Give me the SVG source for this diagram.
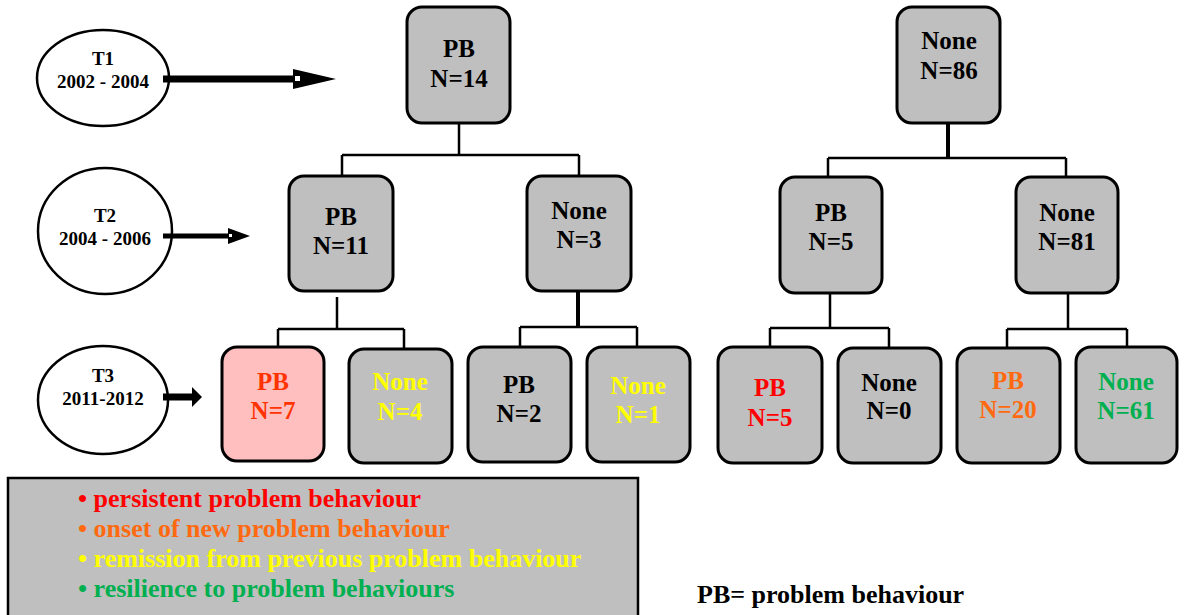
<svg xmlns="http://www.w3.org/2000/svg" width="1189" height="615" viewBox="0 0 1189 615">
<style>
.box{fill:#BFBFBF;stroke:#000;stroke-width:3}
.ell{fill:#fff;stroke:#000;stroke-width:2.5}
.t{font-family:"Liberation Serif","Times New Roman",serif;font-weight:bold;text-anchor:middle}
.nt{font-size:25px}
.et{font-size:19px}
.c{fill:none;stroke:#000;stroke-width:2.5}
.ct{fill:none;stroke:#000;stroke-width:4}
.lg{font-family:"Liberation Serif","Times New Roman",serif;font-weight:bold;font-size:26px}
</style>
<rect width="1189" height="615" fill="#fff"/>

<g id="connectors">
  <path class="c" d="M459,123 V155 M342,155 H579 M342,155 V176 M579,155 V176"/>
  <path class="c" d="M337,297 V329 M278,329 H404 M278,329 V348 M404,329 V349"/>
  <path class="ct" d="M578,291 V327"/>
  <path class="c" d="M520,327 H637 M520,327 V347 M637,327 V347"/>
  <path class="ct" d="M948,122 V158"/>
  <path class="c" d="M828,158 H1066 M828,158 V178 M1066,158 V178"/>
  <path class="c" d="M830,293 V328 M770,328 H889 M770,328 V348 M889,328 V348"/>
  <path class="c" d="M1068,293 V329 M1007,329 H1127 M1007,329 V348 M1127,329 V348"/>
</g>

<g id="t1">
  <ellipse class="ell" cx="103" cy="78" rx="66" ry="48"/>
  <text class="t et" x="103" y="65">T1</text>
  <text class="t et" x="103" y="88">2002 - 2004</text>
</g>
<g id="t1-arrow">
  <rect x="163" y="75.5" width="131" height="7" fill="#000"/>
  <polygon points="293,69 336,79 293,89" fill="#000"/>
  <rect x="295" y="76" width="5" height="5" fill="#fff"/>
</g>
<g id="t2">
  <ellipse class="ell" cx="105" cy="231" rx="67" ry="63"/>
  <text class="t et" x="105" y="222">T2</text>
  <text class="t et" x="105" y="245">2004 - 2006</text>
</g>
<g id="t2-arrow">
  <rect x="163" y="233.5" width="66" height="5" fill="#000"/>
  <polygon points="228,228 250,236 228,244" fill="#000"/>
  <rect x="229" y="234" width="3" height="3" fill="#fff"/>
</g>
<g id="t3">
  <ellipse class="ell" cx="103" cy="400" rx="65" ry="54"/>
  <text class="t et" x="103" y="382">T3</text>
  <text class="t et" x="103" y="405">2011-2012</text>
</g>
<g id="t3-arrow">
  <rect x="163" y="393.5" width="30" height="7" fill="#000"/>
  <polygon points="192,387 202,397 192,407" fill="#000"/>
</g>

<g id="n-pb14">
  <rect class="box" x="407" y="7" width="103" height="116" rx="15"/>
  <text class="t nt" x="459" y="57">PB</text>
  <text class="t nt" x="459" y="87">N=14</text>
</g>
<g id="n-none86">
  <rect class="box" x="897" y="7" width="103" height="116" rx="15"/>
  <text class="t nt" x="949" y="49">None</text>
  <text class="t nt" x="949" y="79">N=86</text>
</g>

<g id="n-pb11">
  <rect class="box" x="289" y="176" width="104" height="115" rx="15"/>
  <text class="t nt" x="341" y="225">PB</text>
  <text class="t nt" x="341" y="254">N=11</text>
</g>
<g id="n-none3">
  <rect class="box" x="527" y="176" width="104" height="115" rx="15"/>
  <text class="t nt" x="579" y="219">None</text>
  <text class="t nt" x="579" y="248">N=3</text>
</g>
<g id="n-pb5a">
  <rect class="box" x="780" y="177" width="102" height="116" rx="15"/>
  <text class="t nt" x="831" y="221">PB</text>
  <text class="t nt" x="831" y="250">N=5</text>
</g>
<g id="n-none81">
  <rect class="box" x="1016" y="177" width="102" height="116" rx="15"/>
  <text class="t nt" x="1067" y="221">None</text>
  <text class="t nt" x="1067" y="250">N=81</text>
</g>

<g id="n-pb7">
  <rect x="222" y="347" width="102" height="114" rx="15" fill="#FFBFBF" stroke="#000" stroke-width="3"/>
  <text class="t nt" x="273" y="390" fill="#FF3300">PB</text>
  <text class="t nt" x="273" y="419" fill="#FF3300">N=7</text>
</g>
<g id="n-none4">
  <rect class="box" x="349" y="349" width="103" height="114" rx="15"/>
  <text class="t nt" x="400" y="390" fill="#FFFF00">None</text>
  <text class="t nt" x="400" y="420" fill="#FFFF00">N=4</text>
</g>
<g id="n-pb2">
  <rect class="box" x="468" y="347" width="103" height="115" rx="15"/>
  <text class="t nt" x="519" y="393">PB</text>
  <text class="t nt" x="519" y="422">N=2</text>
</g>
<g id="n-none1">
  <rect class="box" x="587" y="347" width="103" height="115" rx="15"/>
  <text class="t nt" x="638" y="394" fill="#FFFF00">None</text>
  <text class="t nt" x="638" y="423" fill="#FFFF00">N=1</text>
</g>
<g id="n-pb5b">
  <rect class="box" x="718" y="347" width="104" height="116" rx="15"/>
  <text class="t nt" x="770" y="396" fill="#FF0000">PB</text>
  <text class="t nt" x="770" y="426" fill="#FF0000">N=5</text>
</g>
<g id="n-none0">
  <rect class="box" x="838" y="348" width="103" height="115" rx="15"/>
  <text class="t nt" x="889" y="391">None</text>
  <text class="t nt" x="889" y="419">N=0</text>
</g>
<g id="n-pb20">
  <rect class="box" x="957" y="348" width="103" height="115" rx="15"/>
  <text class="t nt" x="1008" y="389" fill="#FF6A10">PB</text>
  <text class="t nt" x="1008" y="418" fill="#FF6A10">N=20</text>
</g>
<g id="n-none61">
  <rect class="box" x="1076" y="347" width="101" height="116" rx="15"/>
  <text class="t nt" x="1126" y="390" fill="#00B050">None</text>
  <text class="t nt" x="1126" y="419" fill="#00B050">N=61</text>
</g>

<g id="legend">
  <rect x="8" y="478" width="630" height="142" fill="#BFBFBF" stroke="#000" stroke-width="2.5"/>
  <text class="lg" x="78" y="507" fill="#FF0000">• persistent problem behaviour</text>
  <text class="lg" x="78" y="537" fill="#FF6A10">• onset of new problem behaviour</text>
  <text class="lg" x="78" y="567" fill="#FFFF00">• remission from previous problem behaviour</text>
  <text class="lg" x="78" y="597" fill="#00B050">• resilience to problem behaviours</text>
</g>
<g id="pb-note">
  <text class="lg" x="697" y="603" fill="#000">PB= problem behaviour</text>
</g>
</svg>
